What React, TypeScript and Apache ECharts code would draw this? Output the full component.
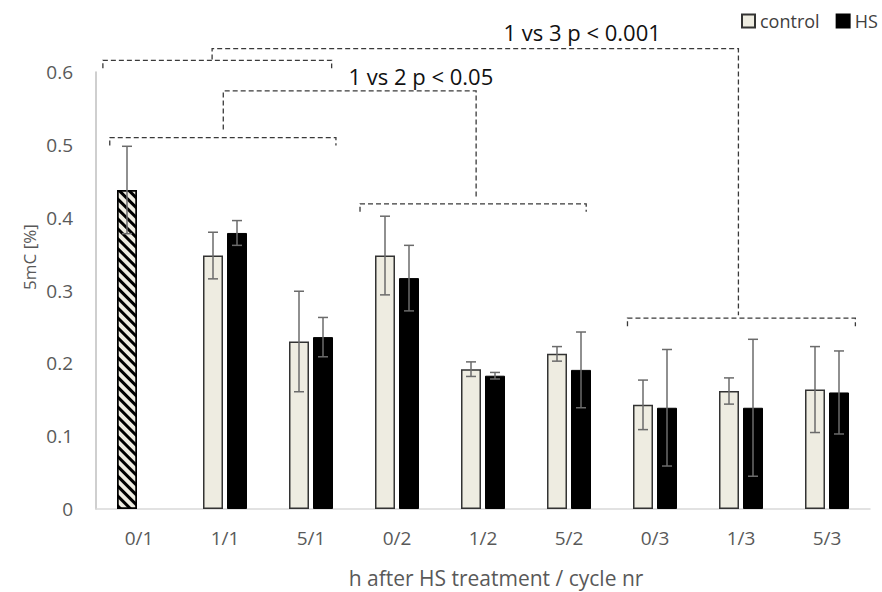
import React, { useEffect, useRef } from "react";
import * as echarts from "echarts";

const categories = ["0/1", "1/1", "5/1", "0/2", "1/2", "5/2", "0/3", "1/3", "5/3"];
const controlMeans = [0.438, 0.348, 0.23, 0.348, 0.192, 0.213, 0.143, 0.162, 0.164];
const controlErr = [0.06, 0.032, 0.069, 0.054, 0.01, 0.01, 0.034, 0.018, 0.059];
const hsMeans: (number | null)[] = [null, 0.379, 0.236, 0.317, 0.183, 0.191, 0.139, 0.139, 0.16];
const hsErr: (number | null)[] = [null, 0.017, 0.027, 0.045, 0.0045, 0.052, 0.08, 0.094, 0.057];
const yTicks = { min: 0, max: 0.6, step: 0.1 };

// significance brackets: x in category units (0 = centre of first category), y in data units
const brackets = [
  { from: -0.34, to: 2.29, y: 0.51 },
  { from: -0.42, to: 2.24, y: 0.616 },
  { from: 2.57, to: 5.2, y: 0.419 },
  { from: 5.68, to: 8.33, y: 0.262 },
];
const connectors = [
  { x1: 0.98, x2: 3.92, y: 0.574, end1: 0.521, end2: 0.427 },
  { x1: 0.85, x2: 6.97, y: 0.632, end1: 0.617, end2: 0.266 },
];
const sigLabels = [
  { text: "1 vs 2 p < 0.05", x: 2.436, y: 0.595 },
  { text: "1 vs 3 p < 0.001", x: 4.238, y: 0.655 },
];

const FONT = '"Open Sans", "Noto Sans", sans-serif';
const BAR_W = 20;
const PAIR_OFFSET = 12;

export default function App() {
  const ref = useRef<HTMLDivElement>(null);
  useEffect(() => {
    if (!ref.current) return;
    const chart = echarts.init(ref.current, null, { renderer: "svg" });

    const controlData = controlMeans.map((v, i) =>
      i === 0 && hsMeans[i] === null
        ? {
            value: v,
            itemStyle: {
              color: "#EEECE1",
              borderColor: "#000",
              decal: {
                symbol: "rect",
                symbolSize: 1,
                color: "#000",
                dashArrayX: [1, 0],
                dashArrayY: [3, 4],
                rotation: Math.PI / 4,
              },
            },
          }
        : v
    );
    const hsData = hsMeans.map((v) => (v === null ? "-" : v));

    const errData = (means: (number | null)[], errs: (number | null)[], side: number) =>
      means
        .map((m, i) => (m === null || errs[i] === null ? null : [i, m - (errs[i] as number), m + (errs[i] as number), side]))
        .filter((d) => d !== null);

    const errRender = (params: any, api: any) => {
      const idx = api.value(0);
      const side = api.value(3);
      const lo = api.coord([idx, api.value(1)]);
      const hi = api.coord([idx, api.value(2)]);
      const x = lo[0] + side * PAIR_OFFSET;
      const cap = 5;
      const style = { stroke: "#6b6b6b", lineWidth: 1.5 };
      return {
        type: "group",
        children: [
          { type: "line", shape: { x1: x, y1: lo[1], x2: x, y2: hi[1] }, style },
          { type: "line", shape: { x1: x - cap, y1: lo[1], x2: x + cap, y2: lo[1] }, style },
          { type: "line", shape: { x1: x - cap, y1: hi[1], x2: x + cap, y2: hi[1] }, style },
        ],
      };
    };

    const annotRender = (params: any, api: any) => {
      if (params.dataIndex !== 0) return null;
      const base = api.coord([0, 0]);
      const bw = api.size([1, 0])[0];
      const X = (f: number) => base[0] + f * bw;
      const Y = (v: number) => api.coord([0, v])[1];
      const dash = { stroke: "#3a3a3a", lineWidth: 1.3, lineDash: [5, 3], fill: null };
      const tick = 0.011;
      const children: any[] = [];
      brackets.forEach((b) => {
        children.push({
          type: "polyline",
          shape: {
            points: [
              [X(b.from), Y(b.y - tick)],
              [X(b.from), Y(b.y)],
              [X(b.to), Y(b.y)],
              [X(b.to), Y(b.y - tick)],
            ],
          },
          style: dash,
        });
      });
      connectors.forEach((c) => {
        children.push({
          type: "polyline",
          shape: {
            points: [
              [X(c.x1), Y(c.end1)],
              [X(c.x1), Y(c.y)],
              [X(c.x2), Y(c.y)],
              [X(c.x2), Y(c.end2)],
            ],
          },
          style: dash,
        });
      });
      sigLabels.forEach((l) => {
        children.push({
          type: "text",
          x: X(l.x),
          y: Y(l.y),
          style: {
            text: l.text,
            fill: "#111",
            fontSize: 22,
            fontFamily: FONT,
            verticalAlign: "middle",
            align: "left",
          },
        });
      });
      return { type: "group", children };
    };

    chart.setOption({
      animation: false,
      textStyle: { fontFamily: FONT },
      grid: { left: 96, right: 12, top: 72, bottom: 83, containLabel: false },
      legend: {
        data: ["control", "HS"],
        left: 741,
        top: 12,
        padding: 0,
        itemWidth: 13,
        itemHeight: 13,
        itemGap: 16,
        icon: "rect",
        textStyle: { fontSize: 18, color: "#404040", fontFamily: FONT },
      },
      xAxis: {
        type: "category",
        data: categories,
        axisLine: { lineStyle: { color: "#d9d9d9", width: 1.5 } },
        axisTick: { show: false },
        axisLabel: { fontSize: 19, color: "#595959", margin: 19, fontFamily: FONT },
      },
      yAxis: {
        type: "value",
        min: yTicks.min,
        max: yTicks.max,
        interval: yTicks.step,
        axisLine: { show: true, lineStyle: { color: "#bfbfbf", width: 1.5 } },
        axisTick: { show: false },
        splitLine: { show: false },
        axisLabel: {
          fontSize: 19,
          color: "#595959",
          margin: 23,
          fontFamily: FONT,
          formatter: (v: number) => String(Math.round(v * 10) / 10),
        },
      },
      graphic: [
        {
          type: "text",
          x: 496,
          y: 578,
          style: {
            text: "h after HS treatment / cycle nr",
            fill: "#595959",
            fontSize: 21,
            fontFamily: FONT,
            align: "center",
            verticalAlign: "middle",
          },
        },
        {
          type: "text",
          x: 29,
          y: 257,
          rotation: Math.PI / 2,
          style: {
            text: "5mC [%]",
            fill: "#595959",
            fontSize: 17,
            fontFamily: FONT,
            align: "center",
            verticalAlign: "middle",
          },
        },
      ],
      series: [
        {
          name: "control",
          type: "bar",
          data: controlData,
          barWidth: BAR_W,
          barGap: "20%",
          itemStyle: { color: "#EEECE1", borderColor: "#333", borderWidth: 1.5 },
        },
        {
          name: "HS",
          type: "bar",
          data: hsData,
          barWidth: BAR_W,
          barGap: "20%",
          itemStyle: { color: "#000", borderColor: "#000", borderWidth: 1 },
        },
        {
          name: "control err",
          type: "custom",
          data: errData(controlMeans, controlErr, -1),
          renderItem: errRender,
          encode: { x: 0, y: [1, 2] },
          z: 5,
        },
        {
          name: "HS err",
          type: "custom",
          data: errData(hsMeans, hsErr, 1),
          renderItem: errRender,
          encode: { x: 0, y: [1, 2] },
          z: 5,
        },
        {
          name: "brackets",
          type: "custom",
          data: [[0, 0]],
          renderItem: annotRender,
          clip: false,
          z: 6,
        },
      ],
    });
    return () => chart.dispose();
  }, []);
  return (
    <div
      ref={ref}
      style={{ position: "absolute", left: 0, top: 0, width: 882, height: 592, background: "#fff" }}
    />
  );
}
